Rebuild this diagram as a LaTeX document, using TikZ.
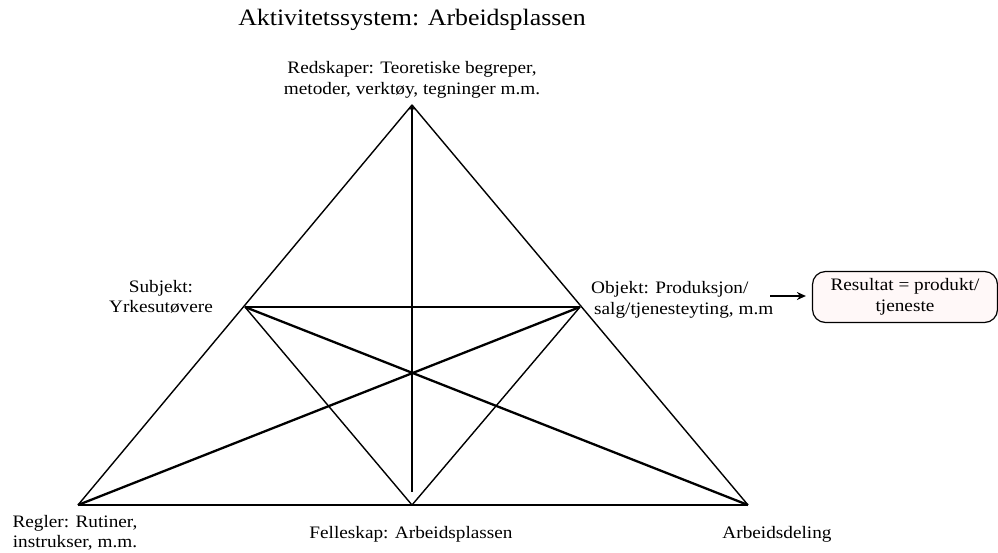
\documentclass[tikz,border=0pt]{standalone}
\usepackage{fontspec}
\setmainfont[FakeStretch=1.1]{Liberation Serif}
\usetikzlibrary{arrows.meta}
\tikzset{
  thinline/.style={line width=1.4pt, line join=round},
  boldline/.style={line width=2.3pt, line join=round},
  lbl/.style={font=\fontsize{17.5}{20.5}\selectfont, inner sep=0pt, align=center},
  resbox/.style={draw, line width=1.2pt, rounded corners=13pt, fill={rgb,255:red,255;green,248;blue,248},
    minimum width=185pt, minimum height=51pt, font=\fontsize{17.5}{20.5}\selectfont, align=center, inner sep=2pt}
}
\begin{document}
\begin{tikzpicture}[x=1pt,y=-1pt]
\useasboundingbox (0,0) rectangle (998,552);
% corners of the activity triangle
\coordinate (T) at (412,105);
\coordinate (S) at (245,307);
\coordinate (O) at (580,307);
\coordinate (L) at (78,505);
\coordinate (M) at (412,505);
\coordinate (R) at (748,505);
\coordinate (Mtop) at (412,492);

% title
\node[font=\fontsize{23.5}{26}\selectfont, inner sep=0pt] (title) at (412,20) {Aktivitetssystem: Arbeidsplassen};

% outer triangle and inner links
\draw[thinline] (L) -- (T) -- (R);
\draw[thinline, line width=1.7pt] (L) -- (R);
\draw[thinline] (S) -- (O);
\draw[thinline] (S) -- (M) -- (O);
\draw[boldline] (S) -- (R);
\draw[boldline] (L) -- (O);
\draw[boldline, -{Stealth[length=5pt,width=5pt]}] (Mtop) -- (T);

% labels at the corners
\node[lbl] (tools) at (412,80) {Redskaper: Teoretiske begreper,\\metoder, verktøy, tegninger m.m.};
\node[lbl] (subject) at (161,297) {Subjekt:\\Yrkesutøvere};
\node[lbl, align=left, anchor=west] (object) at (591,300) {Objekt: Produksjon/\\\hspace{3pt}salg/tjenesteyting, m.m};
\node[lbl] (rules) at (75,533) {Regler: Rutiner,\\instrukser, m.m.};
\node[lbl] (community) at (411,534) {Felleskap: Arbeidsplassen};
\node[lbl] (division) at (777,534) {Arbeidsdeling};

% outcome
\node[resbox] (result) at (905,297) {Resultat = produkt/\\tjeneste};
\coordinate (arrowstart) at (770,296);
\draw[line width=1.8pt, -{Stealth[length=9pt,width=8pt]}, shorten >=6pt] (arrowstart) -- (arrowstart -| result.west);
\end{tikzpicture}
\end{document}
